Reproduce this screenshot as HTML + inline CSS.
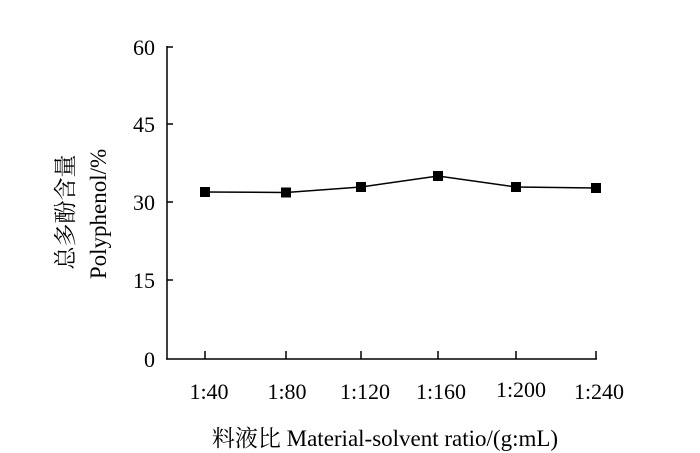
<!DOCTYPE html>
<html><head><meta charset="utf-8"><style>
html,body{margin:0;padding:0;background:#fff;}
svg{display:block;}
text{font-family:"Liberation Serif","Noto Serif CJK SC",serif;fill:#000;}
</style></head><body>
<svg width="700" height="453" viewBox="0 0 700 453" xmlns="http://www.w3.org/2000/svg">
<g stroke="#000" stroke-width="1.5" fill="none">
<line x1="167" y1="46" x2="167" y2="359.5"/>
<line x1="166" y1="359" x2="597" y2="359"/>
<line x1="167" y1="47" x2="173" y2="47"/>
<line x1="167" y1="124" x2="173" y2="124"/>
<line x1="167" y1="202" x2="173" y2="202"/>
<line x1="167" y1="280" x2="173" y2="280"/>
<line x1="205" y1="359" x2="205" y2="351"/>
<line x1="286" y1="359" x2="286" y2="351"/>
<line x1="361" y1="359" x2="361" y2="351"/>
<line x1="438" y1="359" x2="438" y2="351"/>
<line x1="516" y1="359" x2="516" y2="351"/>
<line x1="596" y1="359" x2="596" y2="351"/>
<polyline points="205,192 286,192.5 361,187 438,176 516,187 596,188"/>
</g>
<g fill="#000">
<rect x="200" y="187" width="10" height="10"/>
<rect x="281" y="187.5" width="10" height="10"/>
<rect x="356" y="182" width="10" height="10"/>
<rect x="433" y="171" width="10" height="10"/>
<rect x="511" y="182" width="10" height="10"/>
<rect x="591" y="183" width="10" height="10"/>
</g>
<g font-size="22" text-anchor="end">
<text x="155" y="55">60</text>
<text x="155" y="132">45</text>
<text x="155" y="210">30</text>
<text x="155" y="288">15</text>
<text x="155" y="367">0</text>
</g>
<g font-size="22" text-anchor="middle">
<text x="209" y="399">1:40</text>
<text x="287" y="399">1:80</text>
<text x="365" y="399">1:120</text>
<text x="441" y="399">1:160</text>
<text x="521" y="397">1:200</text>
<text x="599" y="399">1:240</text>
</g>
<text x="385" y="446" font-size="23" text-anchor="middle">料液比 Material-solvent ratio/(g:mL)</text>
<g font-size="23" text-anchor="middle">
<text transform="translate(73,212) rotate(-90)">总多酚含量</text>
<text transform="translate(106,214) rotate(-90)">Polyphenol/%</text>
</g>
</svg>
</body></html>
